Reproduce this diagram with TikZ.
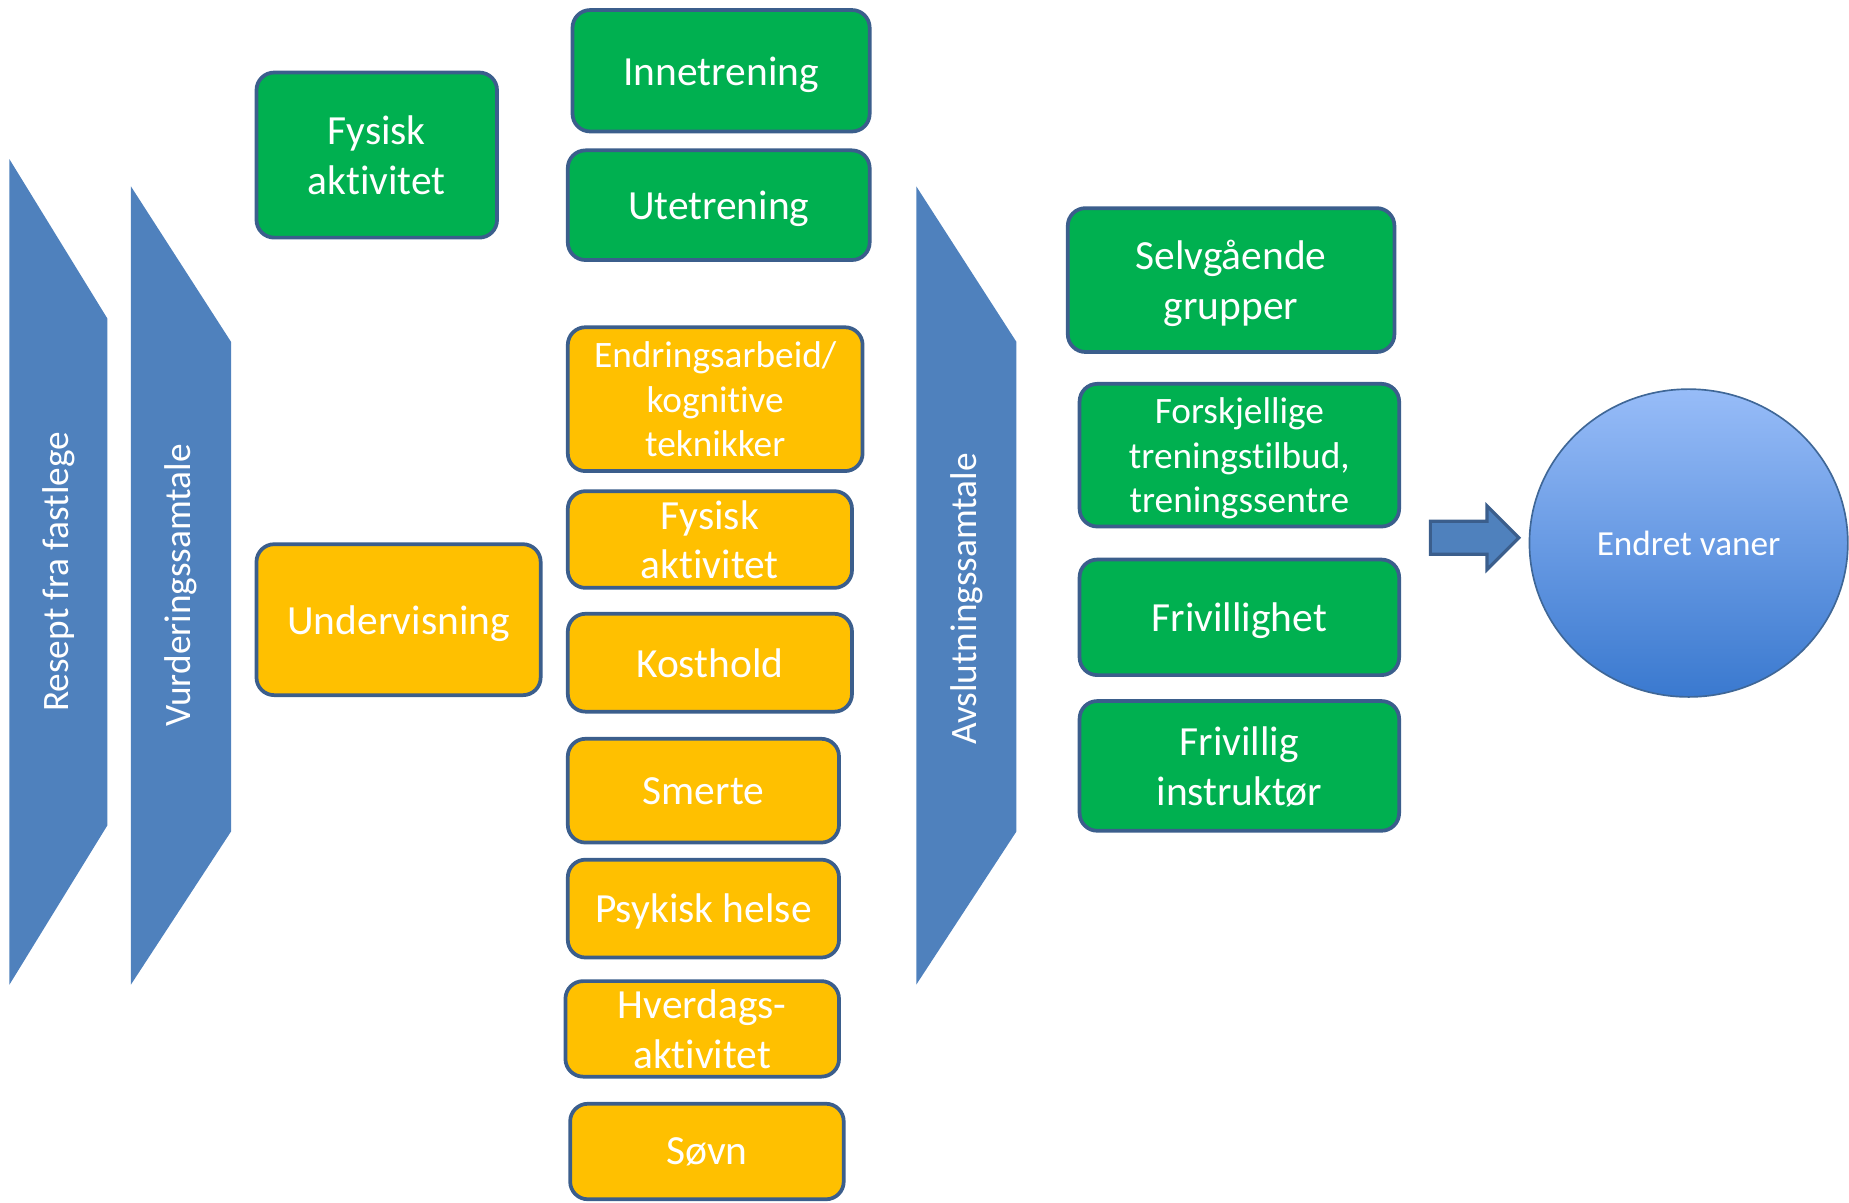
\documentclass[tikz,border=0pt]{standalone}
\usepackage{fontspec}
\setmainfont[Ligatures=NoCommon]{Carlito}
\usepackage{tikz}
\usetikzlibrary{shapes.geometric, arrows}
\definecolor{chevblue}{HTML}{4F81BD}
\definecolor{boxline}{HTML}{3B5E8C}
\definecolor{boxgreen}{HTML}{00B050}
\definecolor{boxorange}{HTML}{FFC000}
\definecolor{circtop}{HTML}{97BCF8}
\definecolor{circbot}{HTML}{3A79CF}
\tikzstyle{greenbox} = [rectangle, rounded corners=0.3cm, inner sep=2pt, text depth=0pt, align=center, text=white, draw=boxline, line width=1.8pt, fill=boxgreen, font=\fontsize{20}{24}\selectfont]
\tikzstyle{orangebox} = [rectangle, rounded corners=0.3cm, inner sep=2pt, text depth=0pt, align=center, text=white, draw=boxline, line width=1.8pt, fill=boxorange, font=\fontsize{20}{24}\selectfont]
\tikzstyle{funnel} = [fill=chevblue]
\tikzstyle{funneltext} = [rotate=90, text=white, font=\fontsize{18}{21}\selectfont]
\tikzstyle{blockarrow} = [fill=chevblue, draw=boxline, line width=1.5pt, line join=miter]
\begin{document}
\begin{tikzpicture}[node distance=2cm]
\useasboundingbox (0,0) rectangle (31.36,-20.4);

\fill[funnel] (0.16,-2.7) -- (1.82,-5.4) -- (1.82,-14) -- (0.16,-16.7) -- cycle;
\node (resept) [funneltext] at (0.99,-9.7) {Resept fra fastlege};
\fill[funnel] (2.22,-3.16) -- (3.92,-5.8) -- (3.92,-14.1) -- (2.22,-16.7) -- cycle;
\node (vurd) [funneltext] at (3.07,-9.93) {Vurderingssamtale};
\fill[funnel] (15.54,-3.16) -- (17.24,-5.8) -- (17.24,-14.1) -- (15.54,-16.7) -- cycle;
\node (avsl) [funneltext] at (16.39,-10.16) {Avslutningssamtale};

\node (gfys) [greenbox, minimum width=4.08cm, minimum height=2.8cm] at (6.39,-2.63) {Fysisk\\aktivitet};
\node (und) [orangebox, minimum width=4.82cm, minimum height=2.56cm, below of=gfys, yshift=-5.88cm, xshift=0.37cm] {Undervisning};

\node (inne) [greenbox, minimum width=5.04cm, minimum height=2.06cm] at (12.23,-1.2) {Innetrening};
\node (ute) [greenbox, minimum width=5.12cm, minimum height=1.86cm, below of=inne, yshift=-0.28cm, xshift=-0.04cm] {Utetrening};
\node (endr) [orangebox, minimum width=5cm, minimum height=2.44cm, font=\fontsize{18}{21.6}\selectfont, below of=ute, yshift=-1.29cm, xshift=-0.06cm] {Endringsarbeid/\\kognitive\\teknikker};
\node (ofys) [orangebox, minimum width=4.82cm, minimum height=1.64cm, below of=endr, yshift=-0.38cm, xshift=-0.09cm] {Fysisk\\aktivitet};
\node (kost) [orangebox, minimum width=4.82cm, minimum height=1.66cm, below of=ofys, yshift=-0.09cm] {Kosthold};
\node (smer) [orangebox, minimum width=4.6cm, minimum height=1.76cm, below of=kost, yshift=-0.17cm, xshift=-0.11cm] {Smerte};
\node (psyk) [orangebox, minimum width=4.6cm, minimum height=1.66cm, below of=smer] {Psykisk helse};
\node (hver) [orangebox, minimum width=4.64cm, minimum height=1.62cm, below of=psyk, yshift=-0.04cm, xshift=-0.02cm] {Hverdags-\\aktivitet};
\node (sovn) [orangebox, minimum width=4.64cm, minimum height=1.62cm, below of=hver, yshift=-0.08cm, xshift=0.08cm] {Søvn};

\node (selv) [greenbox, minimum width=5.54cm, minimum height=2.44cm] at (20.88,-4.75) {Selvgående\\grupper};
\node (forsk) [greenbox, minimum width=5.42cm, minimum height=2.42cm, font=\fontsize{18}{21.6}\selectfont, below of=selv, yshift=-0.97cm, xshift=0.14cm] {Forskjellige\\treningstilbud,\\treningssentre};
\node (friv) [greenbox, minimum width=5.42cm, minimum height=1.96cm, below of=forsk, yshift=-0.75cm] {Frivillighet};
\node (frins) [greenbox, minimum width=5.42cm, minimum height=2.2cm, below of=friv, yshift=-0.52cm] {Frivillig\\instruktør};

\node (vaner) [ellipse, minimum width=5.4cm, minimum height=5.22cm, top color=circtop, bottom color=circbot, draw=chevblue!80!black, line width=0.8pt, text=white, font=\fontsize{17}{20}\selectfont] at (28.64,-9.21) {Endret vaner};

\draw[blockarrow] (24.26,-8.84) -- (25.22,-8.84) -- (25.22,-8.58) -- (25.76,-9.12) -- (25.22,-9.66) -- (25.22,-9.40) -- (24.26,-9.40) -- cycle;

\end{tikzpicture}
\end{document}
